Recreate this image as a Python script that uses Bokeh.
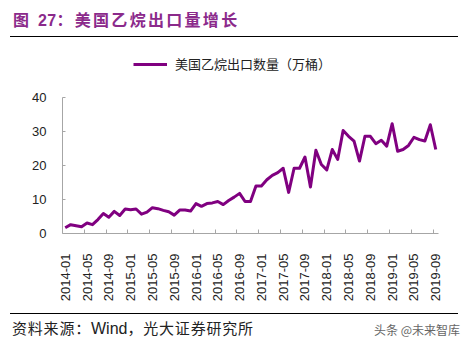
import math
from bokeh.plotting import figure
from bokeh.models import (ColumnDataSource, FixedTicker, LinearAxis,
                          Legend, LegendItem, Range1d, Div)
from bokeh.layouts import column
from bokeh.embed import file_html
from bokeh.resources import INLINE

# ---- data ----
years = [2014, 2015, 2016, 2017, 2018, 2019]
months = [f"{y}-{m:02d}" for y in years for m in range(1, 13)][:69]   # 2014-01 .. 2019-09
exports = [1.7, 2.6, 2.3, 2.0, 3.1, 2.6, 4.1, 5.9, 4.8, 6.5, 5.3, 7.2,
           7.0, 7.2, 5.7, 6.3, 7.6, 7.3, 6.8, 6.4, 5.4, 6.9, 6.9, 6.6,
           8.8, 8.0, 8.8, 9.0, 9.4, 8.5, 9.7, 10.7, 11.8, 9.4, 9.4, 14.0,
           14.0, 15.8, 17.1, 17.9, 19.2, 12.1, 19.2, 19.2, 22.5, 13.7, 24.5, 20.3,
           18.7, 24.7, 21.8, 30.3, 28.6, 27.2, 21.3, 28.6, 28.6, 26.4, 27.4, 25.7,
           32.3, 24.2, 24.7, 25.9, 28.3, 27.6, 27.2, 32.0, 24.7]
y_ticks = [0, 10, 20, 30, 40]
y_max = 40
title_pre = "图 "
title_num = "27"
title_rest = "：美国乙烷出口量增长"
series_name = "美国乙烷出口数量（万桶）"
source_cn1 = "资料来源："
source_en = "Wind"
source_cn2 = "，光大证券研究所"
watermark = "头条 @未来智库"

idx = list(range(len(months)))
src = ColumnDataSource(dict(x=idx, y=exports, m=months))

W = 469
TITLE_H = 44
FOOT_H = 42
FIG_H = 347 - TITLE_H - FOOT_H          # 261
FRAME_TOP = 50 - TITLE_H                # 6 within figure
FRAME_BOT = 233 - TITLE_H               # 189 within figure
L, R = 62, 31
frame_h = FRAME_BOT - FRAME_TOP
px_per_unit = (233 - 97) / y_max

p = figure(width=W, height=FIG_H, output_backend="svg", toolbar_location=None,
           x_range=Range1d(-0.5, len(months) - 0.5),
           y_range=Range1d(0, frame_h / px_per_unit),
           x_axis_location=None, y_axis_location=None,
           min_border_left=L, min_border_right=R,
           min_border_top=FRAME_TOP, min_border_bottom=FIG_H - FRAME_BOT)
p.outline_line_color = None
p.grid.visible = False

purple = "#800080"
axis_gray = "#a6a6a6"
font = "Liberation Sans"

r = p.line("x", "y", source=src, line_color=purple, line_width=3, line_join="round")

# y axis
ya = LinearAxis(ticker=FixedTicker(ticks=y_ticks), bounds=(0, y_max))
ya.axis_line_color = axis_gray
ya.major_tick_line_color = axis_gray
ya.major_tick_in = 3
ya.major_tick_out = 0
ya.minor_tick_line_color = None
ya.major_label_standoff = 16
ya.major_label_text_font = font
ya.major_label_text_font_size = "13px"
ya.major_label_text_color = "#222222"
p.add_layout(ya, "left")

# x axis: labels at category centres, tick marks at category boundaries
label_pos = list(range(0, len(months), 4))
boundaries = [i + 3.5 for i in range(0, len(months) - 4, 4)]
xa = LinearAxis(ticker=FixedTicker(ticks=label_pos, minor_ticks=boundaries),
                major_label_overrides={i: months[i] for i in label_pos})
xa.axis_line_color = axis_gray
xa.major_tick_line_color = None
xa.minor_tick_line_color = axis_gray
xa.minor_tick_in = 4
xa.minor_tick_out = 0
xa.major_label_orientation = math.pi / 2
xa.major_label_standoff = 14
xa.major_label_text_font = font
xa.major_label_text_font_size = "13px"
xa.major_label_text_color = "#222222"
p.add_layout(xa, "below")

# legend (inside the extended frame, above the plotted area)
legend = Legend(items=[LegendItem(label=series_name, renderers=[r])],
                location=(133 - L, 233 - 73.5), orientation="horizontal",
                glyph_width=34, glyph_height=20, label_height=20, label_standoff=8,
                padding=0, margin=0, border_line_color=None,
                background_fill_alpha=0, label_text_font="Noto Sans CJK SC",
                label_text_font_size="13px", label_text_color="#222222")
p.add_layout(legend, "center")

title_div = Div(width=W, height=TITLE_H, margin=0, text=f"""
<div style="position:relative;width:{W}px;height:{TITLE_H}px;overflow:hidden;">
  <div style="position:absolute;left:13px;top:10px;line-height:22px;white-space:nowrap;
              font-family:'Liberation Sans','Noto Sans CJK SC',sans-serif;font-weight:bold;
              font-size:16px;letter-spacing:2.3px;color:#8b2a8b;">{title_pre}<span style="letter-spacing:0.3px;">{title_num}</span>{title_rest}</div>
  <div style="position:absolute;left:10px;top:36px;width:448px;height:0;border-top:1px solid #000;"></div>
</div>""")

foot_div = Div(width=W, height=FOOT_H, margin=0, text=f"""
<div style="position:relative;width:{W}px;height:{FOOT_H}px;overflow:hidden;">
  <div style="position:absolute;left:10px;top:8px;width:448px;height:0;border-top:1px solid #000;"></div>
  <div style="position:absolute;left:12px;top:12px;line-height:22px;white-space:nowrap;
              font-family:'Noto Sans CJK SC',sans-serif;font-size:15px;letter-spacing:0.8px;color:#222;">{source_cn1}<span style="font-family:'Liberation Sans';font-size:16px;letter-spacing:0;">{source_en}</span>{source_cn2}</div>
  <div style="position:absolute;right:9px;top:16px;line-height:18px;white-space:nowrap;
              font-family:'Noto Sans CJK SC',sans-serif;font-size:12px;color:#666;">{watermark}</div>
</div>""")

layout = column(title_div, p, foot_div, spacing=0, margin=0)
open("out.html", "w").write(file_html(layout, INLINE))
